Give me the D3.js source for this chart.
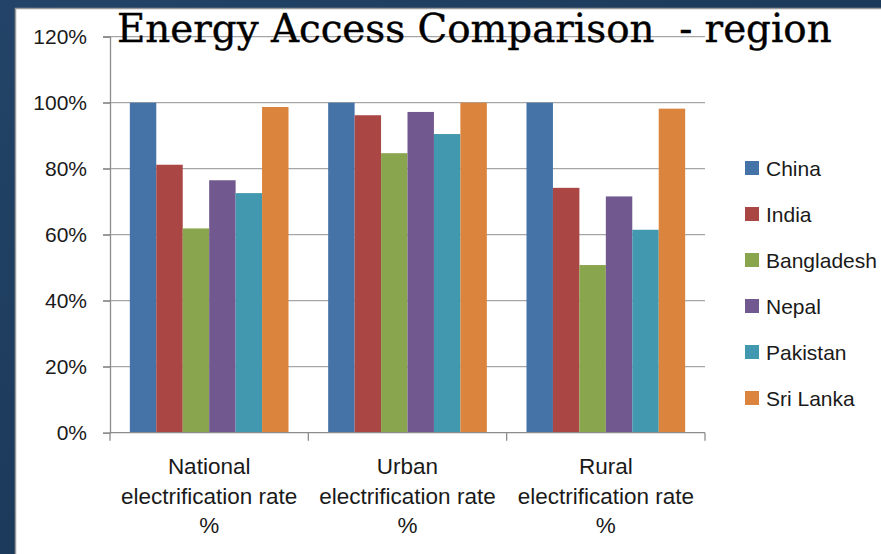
<!DOCTYPE html>
<html><head><meta charset="utf-8">
<script src="https://cdn.jsdelivr.net/npm/d3@7"></script>
<style>
html,body{margin:0;padding:0;background:#1d3756;}
svg{display:block;}
</style></head>
<body>
<svg id="chart" width="881" height="554"></svg>
<script>
const categories = [
  ["National", "electrification rate", "%"],
  ["Urban", "electrification rate", "%"],
  ["Rural", "electrification rate", "%"]
];
const categoryKeys = ["National", "Urban", "Rural"];
const seriesNames = ["China", "India", "Bangladesh", "Nepal", "Pakistan", "Sri Lanka"];
const seriesColors = ["#4572a7", "#aa4643", "#89a54e", "#71588f", "#4198af", "#db843d"];
const China = [100, 100, 100];
const India = [81.2, 96.2, 74.2];
const Bangladesh = [61.9, 84.7, 50.8];
const Nepal = [76.5, 97.2, 71.6];
const Pakistan = [72.6, 90.5, 61.5];
const SriLanka = [98.7, 100, 98.2];
const seriesValues = [China, India, Bangladesh, Nepal, Pakistan, SriLanka];
const yTicks = [0, 20, 40, 60, 80, 100, 120];
const titleText = "Energy Access Comparison  - region";

const svg = d3.select("#chart");

// slide background
const defs = svg.append("defs");
const grad = defs.append("linearGradient").attr("id","bg").attr("x1",0).attr("y1",0).attr("x2",1).attr("y2",1);
grad.append("stop").attr("offset","0%").attr("stop-color","#234468");
grad.append("stop").attr("offset","100%").attr("stop-color","#15304d");
svg.append("rect").attr("width",881).attr("height",554).attr("fill","url(#bg)");

// white panel
svg.append("rect").attr("x",15.5).attr("y",8.5).attr("width",880).attr("height",560)
  .attr("fill","#ffffff").attr("stroke","#9a9a9a").attr("stroke-width",1.5);

const plot = {left:110, right:705, top:36.7, bottom:432.7};

const x0 = d3.scaleBand().domain(categoryKeys).range([plot.left, plot.right]).padding(0);
// Excel gap width 150%: group = 6 bars + 1.5 bar widths
const bw = x0.bandwidth() / 7.5;
const x1 = d3.scaleBand().domain(seriesNames).range([0.75*bw, 6.75*bw]).padding(0);

const y = d3.scaleLinear().domain([0, 120]).range([plot.bottom, plot.top]);

// gridlines
svg.append("g").selectAll("line").data(yTicks.filter(d=>d>0)).join("line")
  .attr("x1", plot.left - 7).attr("x2", plot.right)
  .attr("y1", d=>y(d)).attr("y2", d=>y(d))
  .attr("stroke","#a6a6a6").attr("stroke-width",1.3);

// y axis
const yAxis = d3.axisLeft(y).tickValues(yTicks).tickFormat(d=>d+"%").tickSize(7).tickPadding(16);
const gy = svg.append("g").attr("transform",`translate(${plot.left},0)`).call(yAxis);
gy.select(".domain").attr("stroke","#8c8c8c").attr("stroke-width",1.3);
gy.selectAll(".tick line").attr("stroke","#8c8c8c").attr("stroke-width",1.3);
gy.selectAll("text").attr("font-family","'Liberation Sans', Arial, sans-serif").attr("font-size",21).attr("fill","#1a1a1a");

// bars
const groups = svg.append("g").selectAll("g").data(categoryKeys).join("g")
  .attr("transform", d=>`translate(${x0(d)},0)`);
groups.selectAll("rect").data((c,ci)=>seriesNames.map((s,si)=>({s, si, v: seriesValues[si][ci]})))
  .join("rect")
  .attr("x", d=>x1(d.s)).attr("width", x1.bandwidth())
  .attr("y", d=>y(d.v)).attr("height", d=>y(0)-y(d.v))
  .attr("fill", d=>seriesColors[d.si]);

// x axis
const xAxisLine = svg.append("g");
xAxisLine.append("line").attr("x1",plot.left).attr("x2",plot.right).attr("y1",plot.bottom).attr("y2",plot.bottom)
  .attr("stroke","#8c8c8c").attr("stroke-width",1.3);
const boundaries = categoryKeys.map(c=>x0(c)).concat([x0(categoryKeys[2])+x0.bandwidth()]);
xAxisLine.selectAll("line.tk").data(boundaries).join("line").attr("class","tk")
  .attr("x1",d=>d).attr("x2",d=>d).attr("y1",plot.bottom).attr("y2",plot.bottom+8)
  .attr("stroke","#8c8c8c").attr("stroke-width",1.3);

// x labels
const xl = svg.append("g").selectAll("text").data(categories).join("text")
  .attr("x",(d,i)=>x0(categoryKeys[i]) + x0.bandwidth()/2)
  .attr("y",474)
  .attr("text-anchor","middle")
  .attr("font-family","'Liberation Sans', Arial, sans-serif").attr("font-size",22.5).attr("fill","#1a1a1a");
xl.selectAll("tspan").data(d=>d).join("tspan")
  .attr("x", function(){ return this.parentNode.getAttribute("x"); })
  .attr("dy",(d,i)=> i===0 ? 0 : 29.5)
  .text(d=>d);

// legend
const leg = svg.append("g").selectAll("g").data(seriesNames).join("g")
  .attr("transform",(d,i)=>`translate(745,${168 + i*46})`);
leg.append("rect").attr("x",0).attr("y",-7).attr("width",14).attr("height",14).attr("fill",(d,i)=>seriesColors[i]);
leg.append("text").attr("x",21).attr("y",7.5).text(d=>d)
  .attr("font-family","'Liberation Sans', Arial, sans-serif").attr("font-size",21).attr("fill","#1a1a1a");

// title
const title = svg.append("text").attr("x",117).attr("y",42)
  .attr("font-family","'DejaVu Serif', 'Liberation Serif', serif").attr("font-size",37).attr("fill","#000")
  .attr("stroke","#000").attr("stroke-width",0.4)
  .style("white-space","pre").text(titleText);
const tl = title.node().getComputedTextLength();
title.attr("font-size", 37 * 715 / tl);
</script>
</body></html>
